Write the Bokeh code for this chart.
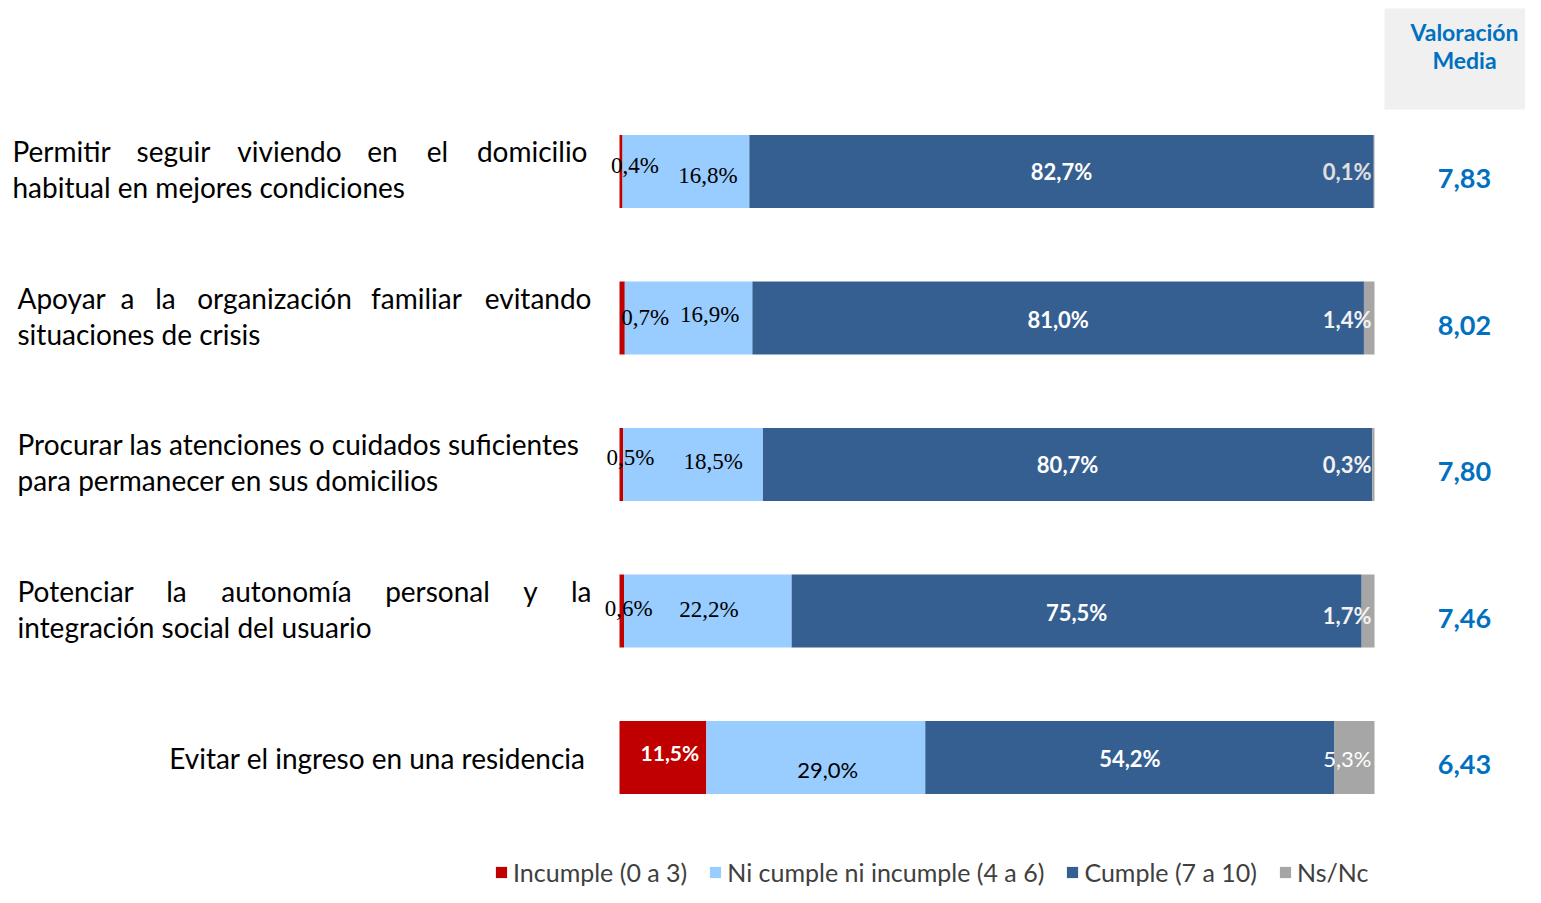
from bokeh.plotting import figure
from bokeh.models import ColumnDataSource, Range1d, Legend, LegendItem
from bokeh.core.properties import value
from bokeh.embed import file_html
from bokeh.resources import INLINE

# ---------------- data ----------------
categories = [
    "Permitir seguir viviendo en el domicilio habitual en mejores condiciones",
    "Apoyar a la organización familiar evitando situaciones de crisis",
    "Procurar las atenciones o cuidados suficientes para permanecer en sus domicilios",
    "Potenciar la autonomía personal y la integración social del usuario",
    "Evitar el ingreso en una residencia",
]
series_names = ["Incumple (0 a 3)", "Ni cumple ni incumple (4 a 6)", "Cumple (7 a 10)", "Ns/Nc"]
incumple = [0.4, 0.7, 0.5, 0.6, 11.5]
ni_cumple = [16.8, 16.9, 18.5, 22.2, 29.0]
cumple = [82.7, 81.0, 80.7, 75.5, 54.2]
nsnc = [0.1, 1.4, 0.3, 1.7, 5.3]
valoracion_media = [7.83, 8.02, 7.80, 7.46, 6.43]
header_lines = ["Valoración", "Media"]

# ---------------- layout helpers ----------------
W, H = 1525, 887
X0, PPX = 619.0, 7.55      # px of 0 %, px per %
Y0, PPY = 171.0, 146.5     # px of first row centre, px per row


def dx(px):
    return (px - X0) / PPX


def dy(py):
    return (py - Y0) / PPY


def fmt(v, nd=1):
    return f"{v:.{nd}f}".replace(".", ",")


colors = ["#C00000", "#99CCFF", "#365F91", "#A6A6A6"]
keys = ["incumple", "ni", "cumple", "nsnc"]
rows = list(range(len(categories)))

p = figure(width=W, height=H, output_backend="svg", toolbar_location=None,
           x_range=Range1d(dx(0), dx(W)), y_range=Range1d(dy(H), dy(0)),
           min_border=0, outline_line_color=None)
p.axis.visible = False
p.grid.visible = False
p.background_fill_color = "white"

src = ColumnDataSource(dict(y=rows, incumple=incumple, ni=ni_cumple, cumple=cumple, nsnc=nsnc))
renderers = p.hbar_stack(keys, y="y", height=73 / PPY, color=colors, line_color=None, source=src)

# ---------------- segment labels ----------------
vals = [incumple, ni_cumple, cumple, nsnc]
n = len(rows)
starts = [[0.0] * n for _ in keys]
for r in range(n):
    acc = 0.0
    for k in range(len(keys)):
        starts[k][r] = acc
        acc += vals[k][r]

FONT = "Lato"
SERIF = "Liberation Serif"

# red (incumple) labels
red_dx = [14, 23, 9, 7, 7]
red_dy = [-6, -1, -7, -3, -5]
red_font = [SERIF, SERIF, SERIF, SERIF, FONT]
red_col = ["black"] * 4 + ["white"]
red_style = ["normal"] * 4 + ["bold"]
red_size = ["23px"] * 4 + ["21px"]
# light blue labels
lb_dx = [22, 21, 20, 1, 12]
lb_dy = [4, -4, -3, -2, 12]
lb_font = [SERIF] * 4 + [FONT]
lb_size = ["23px"] * 4 + ["22px"]
# dark blue labels
db_dy = [0, 1, 0, 1, 1]
# grey labels
gr_dy = [0, 1, 0, 4, 1]
gr_col = ["#E0E0E0", "#F2F2F2", "#F2F2F2", "#F2F2F2", "white"]
gr_style = ["bold", "bold", "bold", "bold", "normal"]

lab = dict(x=[], y=[], text=[], xo=[], yo=[], font=[], size=[], color=[], style=[], align=[])


def add(x, y, t, xo, yo, font, size, color, style, align="center"):
    for kk, vv in zip(lab.keys(), [x, y, t, xo, yo, font, size, color, style, align]):
        lab[kk].append(vv)


for r in rows:
    s0 = starts[0][r] + incumple[r] / 2
    add(s0, r, fmt(incumple[r]) + "%", red_dx[r], red_dy[r], red_font[r], red_size[r], red_col[r], red_style[r])
    s1 = starts[1][r] + ni_cumple[r] / 2
    add(s1, r, fmt(ni_cumple[r]) + "%", lb_dx[r], lb_dy[r], lb_font[r], lb_size[r], "black", "normal")
    s2 = starts[2][r] + cumple[r] / 2
    add(s2, r, fmt(cumple[r]) + "%", 0, db_dy[r], FONT, "22px", "white", "bold")
    s3 = starts[3][r] + nsnc[r]
    add(s3, r, fmt(nsnc[r]) + "%", -3, gr_dy[r], FONT, "22px", gr_col[r], gr_style[r], "right")

lsrc = ColumnDataSource(lab)
p.text(x="x", y="y", text="text", x_offset="xo", y_offset="yo", text_font="font",
       text_font_size="size", text_color="color", text_font_style="style",
       text_align="align", text_baseline="middle", source=lsrc)

# ---------------- category labels ----------------
line_breaks = [6, 6, 6, 6, None]   # number of words on the first line
justify = [True, True, False, True, False]
left_px = [12, 17, 17, 17, None]
right_px = [587, 591, 593, 591, 585]
mid_centres = [
    [173, 289, 382, 437],
    [127, 165, 274, 416],
    None,
    [176, 286, 437, 530],
    None,
]
cat = dict(x=[], y=[], text=[], align=[])
for r, c in enumerate(categories):
    words = c.split(" ")
    nb = line_breaks[r]
    if nb is None:
        cat["x"].append(dx(right_px[r])); cat["y"].append(r); cat["text"].append(c); cat["align"].append("right")
        continue
    first, second = words[:nb], words[nb:]
    y1 = r + dy(Y0 - 20.5)
    y2 = r + dy(Y0 + 15.5)
    if justify[r]:
        cat["x"].append(dx(left_px[r])); cat["y"].append(y1); cat["text"].append(first[0]); cat["align"].append("left")
        for w, cx in zip(first[1:-1], mid_centres[r]):
            cat["x"].append(dx(cx)); cat["y"].append(y1); cat["text"].append(w); cat["align"].append("center")
        cat["x"].append(dx(right_px[r])); cat["y"].append(y1); cat["text"].append(first[-1]); cat["align"].append("right")
    else:
        cat["x"].append(dx(left_px[r])); cat["y"].append(y1); cat["text"].append(" ".join(first)); cat["align"].append("left")
    cat["x"].append(dx(left_px[r])); cat["y"].append(y2); cat["text"].append(" ".join(second)); cat["align"].append("left")

p.text(x="x", y="y", text="text", text_align="align", text_baseline="middle",
       text_font=value(FONT), text_font_size="28px", text_color="black",
       source=ColumnDataSource(cat))

# ---------------- valoración media column ----------------
p.quad(left=dx(1384), right=dx(W + 20), top=dy(8), bottom=dy(109), fill_color="#F0F0F0", line_color=None)
p.text(x=[dx(1464)] * 2, y=[dy(31), dy(59)], text=header_lines, text_align="center",
       text_baseline="middle", text_font=value(FONT), text_font_style="bold",
       text_font_size="23px", text_color="#0070C0")
p.text(x=[dx(1464)] * n, y=[r + 7 / PPY for r in rows], text=[fmt(v, 2) for v in valoracion_media],
       text_align="center", text_baseline="middle", text_font=value(FONT),
       text_font_style="bold", text_font_size="27px", text_color="#0070C0")

# ---------------- legend ----------------
legend = Legend(items=[LegendItem(label=nm, renderers=[rr]) for nm, rr in zip(series_names, renderers)],
                orientation="horizontal", location=(494, 0), glyph_width=14, glyph_height=14,
                label_standoff=5, spacing=21, padding=0, margin=0, border_line_alpha=0,
                background_fill_alpha=0, label_text_font=FONT, label_text_font_size="25px",
                label_text_color="#404040", label_height=24)
p.add_layout(legend, "center")

open("out.html", "w").write(file_html(p, INLINE))
